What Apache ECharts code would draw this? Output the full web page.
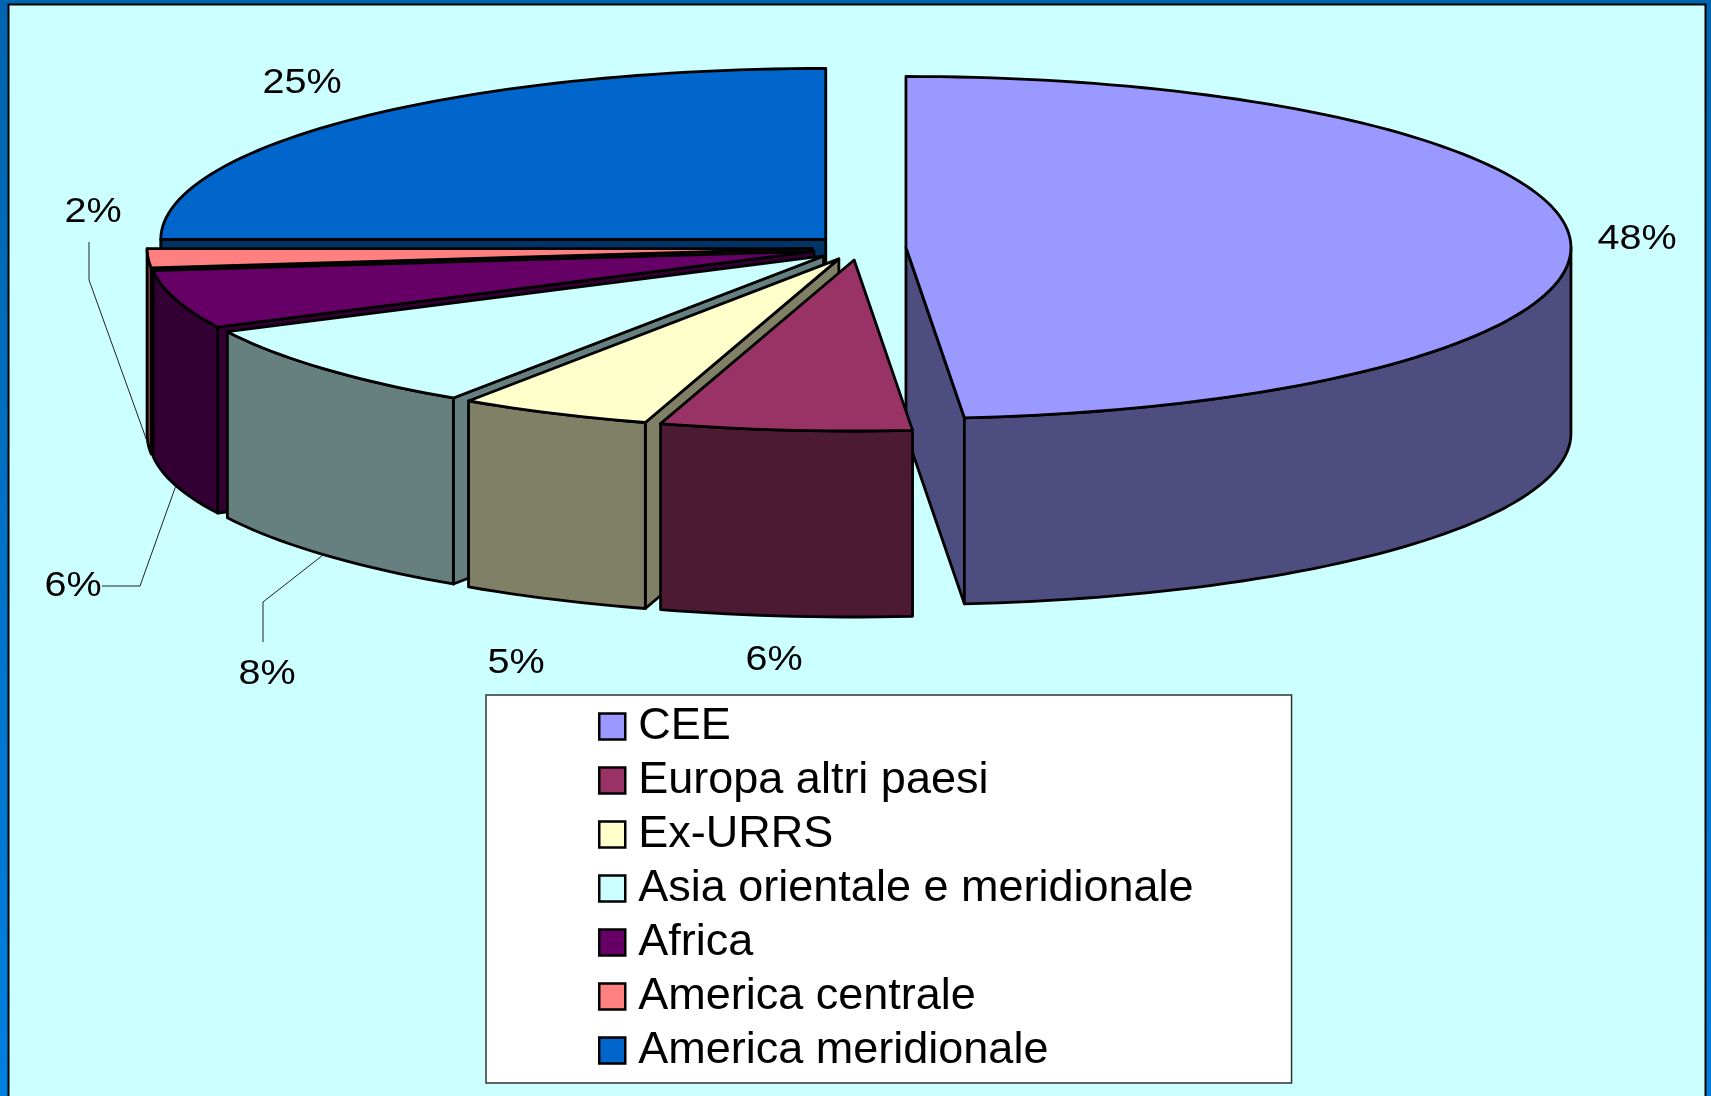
<!DOCTYPE html>
<html><head><meta charset="utf-8">
<style>html,body{margin:0;padding:0;width:1711px;height:1096px;overflow:hidden}#c{width:1711px;height:1096px}</style>
<script src="https://cdn.jsdelivr.net/npm/echarts@6/dist/echarts.min.js"></script>
</head><body><div id="c"></div>
<script>
// ---- data ----
const categories = ['CEE','Europa altri paesi','Ex-URRS','Asia orientale e meridionale','Africa','America centrale','America meridionale'];
const shares = [48.6, 6.1, 4.7, 8.3, 5.5, 1.8, 25];
const pctLabels = ['48%','6%','5%','8%','6%','2%','25%'];
const topColors = ['#9999FF','#993366','#FFFFCC','#CCFFFF','#660066','#FF8080','#0066CC'];
const sideColors = ['#4D4D80','#4D1A33','#808066','#668080','#330033','#804040','#003366'];
// ---- layout ----
const cx = 859, cy = 248, rx = 665, ry = 171, depth = 186, explode = 47;
const drawOrder = [6,5,4,3,2,0,1];
const labelPos = [[1637,239],[774,660],[516,663],[267,674],[73,586],[93,212],[302,83]];
const leaders = {5:[[89,280],[89,242]], 4:[[140,586],[102,586]], 3:[[263,602],[263,642]]};
const FONT = '"Liberation Sans", Arial, sans-serif';

const total = shares.reduce((a,b)=>a+b,0);
const deg = Math.PI/180;
let acc = 0;
const spans = shares.map(v=>{const s=acc/total*360; acc+=v; return [s,acc/total*360];});
const pt = (c,t,dy)=>[c[0]+rx*Math.sin(t*deg), c[1]-ry*Math.cos(t*deg)+(dy||0)];
function arc(c,a,b,dy){const n=Math.max(2,Math.ceil((b-a)/1.5)),o=[];for(let i=0;i<=n;i++)o.push(pt(c,a+(b-a)*i/n,dy));return o;}
const stroke = {stroke:'#000',lineWidth:2.8,lineJoin:'round'};

function renderSlice(i){
  const [a,b]=spans[i], mid=(a+b)/2;
  const c=[cx+explode*Math.sin(mid*deg), cy-explode*ry/rx*Math.cos(mid*deg)];
  const kids=[];
  const poly=(pts,fill)=>kids.push({type:'polygon',shape:{points:pts},style:Object.assign({fill},stroke)});
  // radial walls: only those that face the viewer
  const wall=t=>{const p=pt(c,t);poly([c,p,[p[0],p[1]+depth],[c[0],c[1]+depth]],sideColors[i]);};
  if(a>=180) wall(a);
  if(b<=180) wall(b);
  // outer rim (front half only)
  const s=Math.max(a,90), e=Math.min(b,270);
  if(e>s) poly(arc(c,s,e,0).concat(arc(c,s,e,depth).reverse()),sideColors[i]);
  // top face
  poly([c].concat(arc(c,a,b,0)),topColors[i]);
  // leader line + label
  if(leaders[i]){
    const anchor=pt(c,mid,depth);
    kids.push({type:'polyline',shape:{points:[anchor].concat(leaders[i])},style:{stroke:'#222',lineWidth:1,fill:null}});
  }
  kids.push({type:'text',x:labelPos[i][0],y:labelPos[i][1],scaleX:1.13,style:{x:0,y:0,text:pctLabels[i],fill:'#000',
    font:'35px '+FONT,align:'center',verticalAlign:'middle'}});
  return {type:'group',children:kids};
}

const chart = echarts.init(document.getElementById('c'),null,{renderer:'canvas'});
chart.setOption({
  animation:false,
  backgroundColor:new echarts.graphic.LinearGradient(0,0,0,1,[{offset:0,color:'#0064AE'},{offset:1,color:'#0080E0'}]),
  graphic:[{type:'rect',z:-10,silent:true,shape:{x:8.5,y:4.5,width:1697,height:1110},style:{fill:'#CCFFFF',stroke:'#000',lineWidth:2}}],
  legend:{
    orient:'vertical',left:486,top:695,selectedMode:false,
    backgroundColor:'#fff',borderColor:'#333',borderWidth:1.5,
    padding:[9,98,10,112],itemWidth:26,itemHeight:26,itemGap:9,
    textStyle:{fontFamily:FONT,fontSize:45,lineHeight:36,color:'#000',padding:[8,0,0,8]},
    data:categories.map((n,i)=>({name:n,icon:'rect',itemStyle:{color:topColors[i],borderColor:'#000',borderWidth:2.5}}))
  },
  series:drawOrder.map(i=>({
    type:'custom',name:categories[i],coordinateSystem:'none',silent:true,
    itemStyle:{color:topColors[i]},
    data:[{name:categories[i],value:shares[i]}],
    renderItem:()=>renderSlice(i)
  }))
});
</script></body></html>
